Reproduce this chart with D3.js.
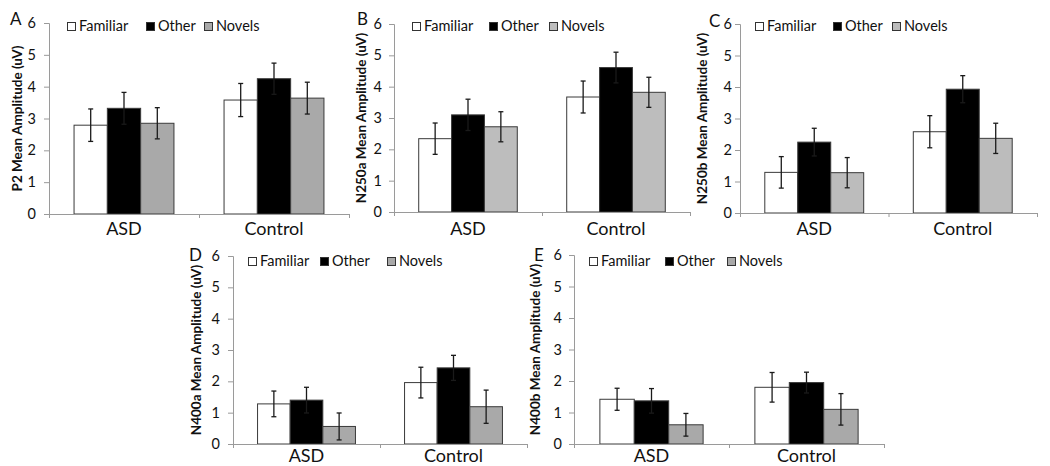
<!DOCTYPE html>
<html>
<head>
<meta charset="utf-8">
<script src="https://cdn.jsdelivr.net/npm/d3@7"></script>
<style>
  html, body { margin: 0; padding: 0; background: #fff; }
  svg { display: block; }
  text { font-family: Lato, "Open Sans", sans-serif; fill: #111; }
</style>
</head>
<body>
<svg id="chart" width="1050" height="466"></svg>
<script>
// ---------- data ----------
const groups = ["ASD", "Control"];
const conditions = ["Familiar", "Other", "Novels"];
const yTicks = [0, 1, 2, 3, 4, 5, 6];
const panelLetters = ["A", "B", "C", "D", "E"];
const yTitles = [
  "P2 Mean Amplitude (uV)",
  "N250a Mean Amplitude (uV)",
  "N250b Mean Amplitude (uV)",
  "N400a Mean Amplitude (uV)",
  "N400b Mean Amplitude (uV)"
];
// means: [ASD: Familiar, Other, Novels], [Control: Familiar, Other, Novels]
const meansP2    = [[2.79, 3.32, 2.85], [3.58, 4.25, 3.64]];
const errorsP2   = [[0.51, 0.50, 0.49], [0.52, 0.49, 0.50]];
const meansN250a = [[2.34, 3.10, 2.72], [3.67, 4.61, 3.82]];
const errorsN250a= [[0.50, 0.50, 0.48], [0.51, 0.49, 0.48]];
const meansN250b = [[1.29, 2.25, 1.28], [2.58, 3.93, 2.37]];
const errorsN250b= [[0.50, 0.44, 0.48], [0.51, 0.43, 0.48]];
const meansN400a = [[1.28, 1.40, 0.56], [1.96, 2.43, 1.19]];
const errorsN400a= [[0.41, 0.41, 0.43], [0.49, 0.40, 0.53]];
const meansN400b = [[1.42, 1.37, 0.61], [1.80, 1.95, 1.10]];
const errorsN400b= [[0.35, 0.39, 0.36], [0.47, 0.33, 0.50]];

const allMeans  = [meansP2, meansN250a, meansN250b, meansN400a, meansN400b];
const allErrors = [errorsP2, errorsN250a, errorsN250b, errorsN400a, errorsN400b];

// ---------- layout (positions & styles) ----------
const layout = [
  { x0: 49,  x1: 349,  top: 23,  bot: 214, letterX: 10,  letterY: 25,  titleX: 17,  tickPad: 8, legendSq: [67, 146, 204], legendY: 31,  labelY: 235, gray: "#a9a9a9" },
  { x0: 394, x1: 690,  top: 24,  bot: 212, letterX: 357, letterY: 25,  titleX: 361, tickPad: 7, legendSq: [412, 489, 549], legendY: 31,  labelY: 235, gray: "#bdbdbd" },
  { x0: 740, x1: 1037, top: 24,  bot: 213, letterX: 709, letterY: 27,  titleX: 702, tickPad: 3, legendSq: [755, 833, 892], legendY: 31,  labelY: 235, gray: "#bcbcbc" },
  { x0: 233, x1: 527,  top: 256, bot: 444, letterX: 189, letterY: 261, titleX: 196, tickPad: 8, legendSq: [248, 320, 387], legendY: 266, labelY: 462, gray: "#a9a9a9" },
  { x0: 574, x1: 884,  top: 255, bot: 444, letterX: 534, letterY: 261, titleX: 535, tickPad: 7, legendSq: [589, 665, 727], legendY: 266, labelY: 462, gray: "#a9a9a9" }
];

const svg = d3.select("#chart");
const axisColor = "#9a9a9a";

layout.forEach((L, i) => {
  const g = svg.append("g");
  const means = allMeans[i];
  const errs = allErrors[i];
  const fills = ["#ffffff", "#000000", L.gray];

  const y = d3.scaleLinear().domain([0, 6]).range([L.bot, L.top]);
  const xBand = d3.scaleBand().domain(groups).range([L.x0, L.x1]).padding(0);
  const xCond = d3.scaleBand().domain(conditions)
    .range([xBand.bandwidth() * 0.167, xBand.bandwidth() * 0.833]).padding(0);

  // y axis
  const yAxis = d3.axisLeft(y).tickValues(yTicks).tickSize(5).tickPadding(L.tickPad).tickFormat(d3.format("d"));
  const ya = g.append("g").attr("transform", `translate(${L.x0},0)`).call(yAxis);
  ya.select(".domain").attr("stroke", axisColor);
  ya.selectAll(".tick line").attr("stroke", axisColor);
  ya.selectAll(".tick text").attr("font-size", 14.5).attr("font-family", "Lato, sans-serif").attr("fill", "#111");

  // bars
  groups.forEach((grp, gi) => {
    const gx = xBand(grp);
    conditions.forEach((c, ci) => {
      const v = means[gi][ci];
      const e = errs[gi][ci];
      const bx = gx + xCond(c);
      g.append("rect")
        .attr("x", bx).attr("y", y(v))
        .attr("width", xCond.bandwidth()).attr("height", y(0) - y(v))
        .attr("fill", fills[ci]).attr("stroke", "#3a3a3a").attr("stroke-width", 1);
      const cx = bx + xCond.bandwidth() / 2;
      const eg = g.append("g").attr("stroke", "#1a1a1a").attr("stroke-width", 1.3);
      eg.append("line").attr("x1", cx).attr("x2", cx).attr("y1", y(v + e)).attr("y2", y(v - e));
      eg.append("line").attr("x1", cx - 2.5).attr("x2", cx + 2.5).attr("y1", y(v + e)).attr("y2", y(v + e));
      eg.append("line").attr("x1", cx - 2.5).attr("x2", cx + 2.5).attr("y1", y(v - e)).attr("y2", y(v - e));
    });
  });

  // x axis
  const xAxisLine = d3.axisBottom(d3.scaleLinear().domain([0, 2]).range([L.x0, L.x1]))
    .tickValues([0, 1, 2]).tickSize(4).tickFormat("");
  const xa = g.append("g").attr("transform", `translate(0,${L.bot})`).call(xAxisLine);
  xa.select(".domain").attr("stroke", axisColor);
  xa.selectAll(".tick line").attr("stroke", axisColor);

  groups.forEach(grp => {
    g.append("text")
      .attr("x", xBand(grp) + xBand.bandwidth() / 2)
      .attr("y", L.labelY)
      .attr("text-anchor", "middle")
      .attr("font-size", 18)
      .text(grp);
  });

  // y title
  g.append("text")
    .attr("transform", `translate(${L.titleX},${(L.top + L.bot) / 2}) rotate(-90)`)
    .attr("text-anchor", "middle")
    .attr("dominant-baseline", "central")
    .attr("font-size", 13.5)
    .attr("font-weight", "bold")
    .text(yTitles[i]);

  // panel letter
  g.append("text")
    .attr("x", L.letterX).attr("y", L.letterY)
    .attr("font-size", 17)
    .text(panelLetters[i]);

  // legend
  conditions.forEach((c, ci) => {
    const sx = L.legendSq[ci];
    g.append("rect")
      .attr("x", sx + 0.5).attr("y", L.legendY - 8.5)
      .attr("width", 8).attr("height", 8)
      .attr("fill", fills[ci]).attr("stroke", "#333").attr("stroke-width", 1);
    g.append("text")
      .attr("x", sx + 12).attr("y", L.legendY)
      .attr("font-size", 14.5)
      .text(c);
  });
});
</script>
</body>
</html>
